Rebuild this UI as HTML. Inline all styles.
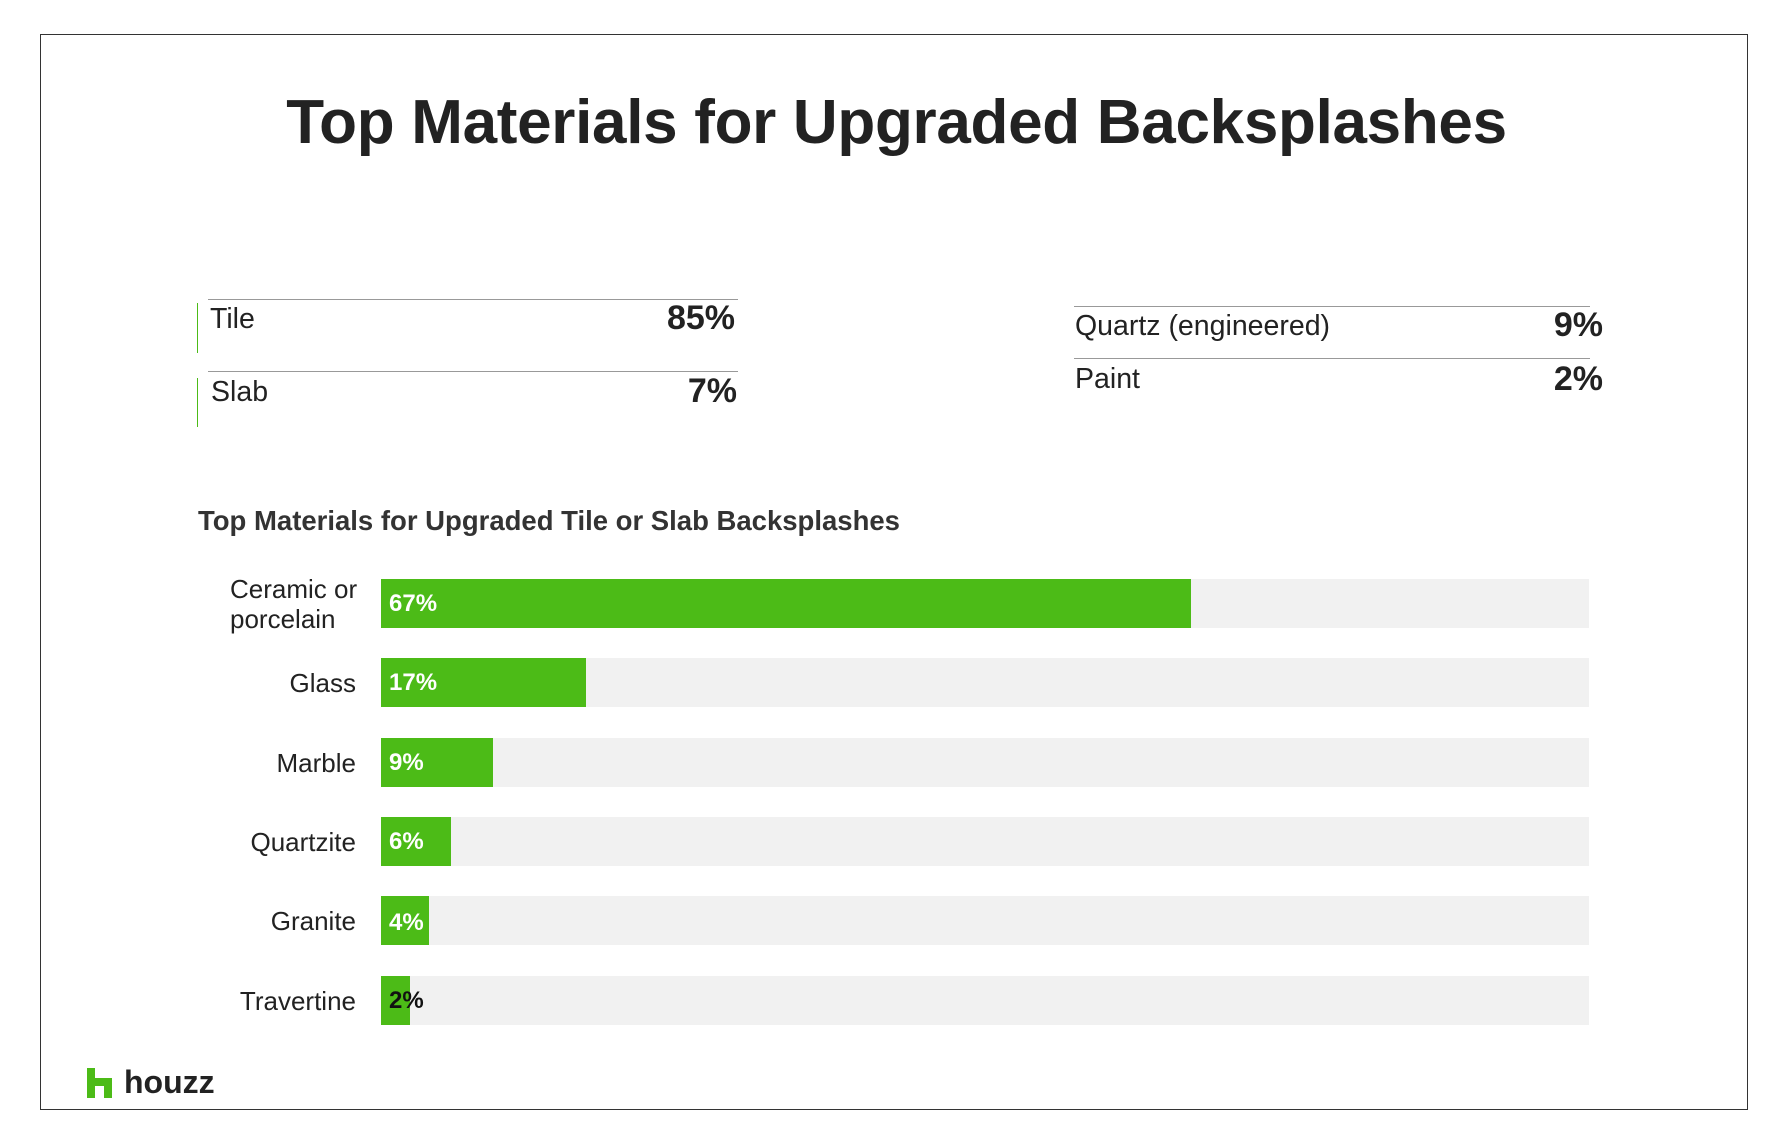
<!DOCTYPE html>
<html><head><style>
body{margin:0;width:1782px;height:1146px;background:#fff;font-family:"Liberation Sans",sans-serif;color:#222;position:relative;overflow:hidden}
.a{position:absolute}
.frame{left:40px;top:34px;width:1716px;height:1076px;border:1px solid #333;box-sizing:border-box}
.title{left:0;width:1793px;top:87px;text-align:center;font-weight:bold;font-size:62px;letter-spacing:-0.3px;color:#222}
.hl{height:1px;background:#999}
.gv{width:1px;background:#4cbb17}
.lab{font-size:28.5px;color:#222}
.val{font-size:34px;font-weight:bold;text-align:right;color:#222}
.sub{left:198px;top:505px;font-size:27.5px;font-weight:bold;color:#333}
.track{left:381px;width:1208px;height:49px;background:#f1f1f1}
.bar{left:381px;height:49px;background:#4cbb17}
.bl{font-size:24px;font-weight:bold;color:#fff;left:389px;line-height:49px}
.rl{width:330px;left:26px;text-align:right;font-size:26px;color:#222;line-height:30px}
</style></head><body>
<div class="a frame" style="width:1708px"></div>
<div class="a title">Top Materials for Upgraded Backsplashes</div>

<div class="a hl" style="left:208px;top:299px;width:530px"></div>
<div class="a gv" style="left:197px;top:303px;height:50px"></div>
<div class="a lab" style="left:210px;top:303px">Tile</div>
<div class="a val" style="left:595px;width:140px;top:299px">85%</div>
<div class="a hl" style="left:208px;top:371px;width:530px"></div>
<div class="a gv" style="left:197px;top:378px;height:49px"></div>
<div class="a lab" style="left:211px;top:376px">Slab</div>
<div class="a val" style="left:595px;width:142px;top:372px">7%</div>

<div class="a hl" style="left:1074px;top:306px;width:516px"></div>
<div class="a lab" style="left:1075px;top:310px">Quartz (engineered)</div>
<div class="a val" style="left:1461px;width:142px;top:306px">9%</div>
<div class="a hl" style="left:1074px;top:358px;width:516px"></div>
<div class="a lab" style="left:1075px;top:363px">Paint</div>
<div class="a val" style="left:1461px;width:142px;top:360px">2%</div>

<div class="a sub">Top Materials for Upgraded Tile or Slab Backsplashes</div>

<div class="a track" style="top:579px"></div><div class="a bar" style="top:579px;width:810px"></div><div class="a bl" style="top:579px">67%</div>
<div class="a" style="left:230px;top:574px;font-size:26px;line-height:30px">Ceramic or<br>porcelain</div>
<div class="a track" style="top:658px"></div><div class="a bar" style="top:658px;width:205px"></div><div class="a bl" style="top:658px">17%</div>
<div class="a rl" style="top:668px">Glass</div>
<div class="a track" style="top:738px"></div><div class="a bar" style="top:738px;width:112px"></div><div class="a bl" style="top:738px">9%</div>
<div class="a rl" style="top:748px">Marble</div>
<div class="a track" style="top:817px"></div><div class="a bar" style="top:817px;width:70px"></div><div class="a bl" style="top:817px">6%</div>
<div class="a rl" style="top:827px">Quartzite</div>
<div class="a track" style="top:896px"></div><div class="a bar" style="top:896px;width:48px"></div><div class="a bl" style="top:898px">4%</div>
<div class="a rl" style="top:906px">Granite</div>
<div class="a track" style="top:976px"></div><div class="a bar" style="top:976px;width:29px"></div><div class="a bl" style="top:976px;color:#111">2%</div>
<div class="a rl" style="top:986px">Travertine</div>

<svg class="a" style="left:87px;top:1068px" width="26" height="30"><path d="M0 0h8v10h17v20h-8v-12h-9v12h-8z" fill="#4cbb17"/></svg>
<div class="a" style="left:124px;top:1064px;font-size:32px;font-weight:bold;color:#222">houzz</div>
</body></html>
